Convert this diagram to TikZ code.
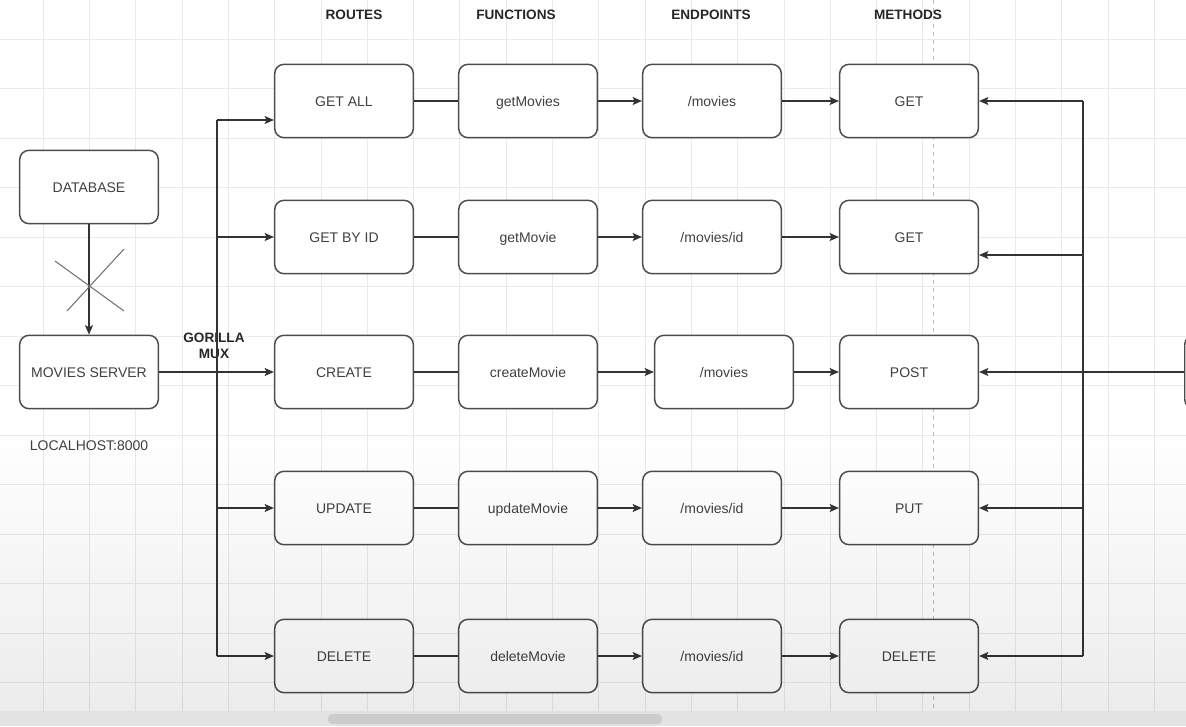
\documentclass[tikz,border=0pt]{standalone}
\usepackage{fontspec}
\setmainfont{Liberation Sans}
\usetikzlibrary{calc,fadings,arrows.meta}
\definecolor{boxtext}{HTML}{404040}
\definecolor{gridline}{HTML}{EAEAEA}
\tikzset{
  blk/.style={draw=black!70, line width=1.1pt, rounded corners=7pt, fill=white,
    minimum width=104pt, minimum height=55pt, text height=7.5pt, text depth=0pt,
    font=\fontsize{10.5}{12}\selectfont, text=boxtext},
  head/.style={font=\bfseries\fontsize{10.2}{12}\selectfont, text=black!85},
  wire/.style={draw=black!80, line width=0.9pt}
}
\begin{document}
\begin{tikzpicture}[x=0.75pt,y=-0.75pt,>={Stealth[length=7pt,width=6pt,inset=1.5pt]}]
\useasboundingbox (0,0) rectangle (1186,726);
\clip (0,0) rectangle (1186,726);
% grid of the canvas
\foreach \x in {0,...,24}
    \draw[gridline] ({43+46.3*\x},0) -- ({43+46.3*\x},726);
\foreach \y in {0,...,14}
    \draw[gridline] (0,{39+49.5*\y}) -- (1186,{39+49.5*\y});
\draw[black!25, dashed] (933,0) -- (933,726);
% column heads
\node[head] (hroutes) at (354,15) {ROUTES};
\node[head] (hfuncs) at (516,15) {FUNCTIONS};
\node[head] (hends) at (711,15) {ENDPOINTS};
\node[head] (hmeths) at (908,15) {METHODS};
% server side
\node[blk] (db) at (89,187) {DATABASE};
\node[blk] (srv) at (89,372) {MOVIES SERVER};
\node[font=\fontsize{10.5}{12}\selectfont, text=boxtext] (host) at (89,446) {LOCALHOST:8000};
\node[head, align=center] (mux) at (214,346) {GORILLA\\MUX};
\draw[wire,->] (db) -- (srv);
\draw[black!55, line width=0.8pt] (55,261) -- (124,311) (67,311) -- (124,249);
% the five routes
\foreach \i/\y/\ex/\rt/\fn/\ep/\mt in {
    1/101/712/GET ALL/getMovies/{/movies}/GET,
    2/237/712/GET BY ID/getMovie/{/movies/id}/GET,
    3/372/724/CREATE/createMovie/{/movies}/POST,
    4/508/712/UPDATE/updateMovie/{/movies/id}/PUT,
    5/656/712/DELETE/deleteMovie/{/movies/id}/DELETE}
{
    \node[blk] (r\i) at (344,\y) {\rt};
    \node[blk] (f\i) at (528,\y) {\fn};
    \node[blk] (e\i) at (\ex,\y) {\ep};
    \node[blk] (m\i) at (909,\y) {\mt};
    \draw[wire] (r\i) -- (f\i);
    \draw[wire,->] (f\i) -- (e\i);
    \draw[wire,->] (e\i) -- (m\i);
}
% left bus
\coordinate (lb) at (217,372);
\coordinate (lbtop) at (217,120);
\draw[wire,->] (srv) -- (r3);
\draw[wire] (lbtop) -- (lb |- r5);
\draw[wire,->] (lbtop) -- (lbtop -| r1.west);
\foreach \i in {2,4,5}
    \draw[wire,->] (lb |- r\i) -- (r\i);
% right bus
\node[blk, anchor=west] (client) at (1184,372) {};
\coordinate (rb) at (1083,372);
\coordinate (m2in) at ($(m2.east)+(0,18)$);
\draw[wire,->] (client) -- (m3);
\draw[wire] (rb |- m1) -- (rb |- m5);
\foreach \i in {1,4,5}
    \draw[wire,->] (rb |- m\i) -- (m\i);
\draw[wire,->] (rb |- m2in) -- (m2in);
% screen shading and scroll bar
\fill[black, opacity=0.08, path fading=north] (0,430) rectangle (1190,726);
\fill[black!11] (0,711) rectangle (1186,726);
\fill[black!20, rounded corners=3pt] (328,714) rectangle (662,724);
\end{tikzpicture}
\end{document}
